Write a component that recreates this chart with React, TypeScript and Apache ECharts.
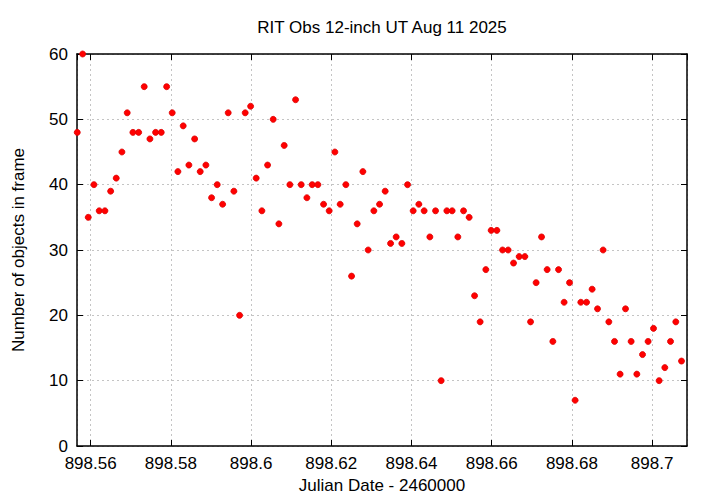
import React, { useEffect, useRef } from "react";
import * as echarts from "echarts";

const chartTitle = "RIT Obs 12-inch UT Aug 11 2025";
const xAxisName = "Julian Date - 2460000";
const yAxisName = "Number of objects in frame";

const julianDates = [
  898.55666, 898.55801, 898.5594, 898.56082, 898.56214, 898.56356, 898.56499, 898.56638,
  898.5678, 898.56912, 898.57054, 898.57197, 898.57336, 898.57478, 898.5762, 898.5776,
  898.57895, 898.58034, 898.58176, 898.58308, 898.5845, 898.58593, 898.58732, 898.58874,
  898.59016, 898.59156, 898.59291, 898.5943, 898.59572, 898.59714, 898.59854, 898.59989,
  898.60128, 898.6027, 898.60412, 898.60552, 898.60694, 898.60826, 898.60968, 898.6111,
  898.6125, 898.61392, 898.61524, 898.61666, 898.61808, 898.61948, 898.6209, 898.62222,
  898.62364, 898.62506, 898.62646, 898.62788, 898.6292, 898.63062, 898.63204, 898.63344,
  898.63479, 898.63618, 898.6376, 898.63902, 898.64042, 898.64184, 898.64316, 898.64458,
  898.646, 898.6474, 898.64882, 898.65014, 898.65156, 898.65298, 898.65438, 898.65573,
  898.65712, 898.65854, 898.65987, 898.66129, 898.66271, 898.6641, 898.66545, 898.66685,
  898.66827, 898.66969, 898.67108, 898.67243, 898.67383, 898.67525, 898.67667, 898.67806,
  898.67941, 898.6808, 898.68223, 898.68365, 898.68504, 898.68639, 898.68778, 898.68921,
  898.69063, 898.69202, 898.69337, 898.69477, 898.69619, 898.69761, 898.699, 898.70035,
  898.70175, 898.70317, 898.70459, 898.70591, 898.70733,
];

const objectCounts = [
  48, 60, 35, 40, 36, 36, 39, 41,
  45, 51, 48, 48, 55, 47, 48, 48,
  55, 51, 42, 49, 43, 47, 42, 43,
  38, 40, 37, 51, 39, 20, 51, 52,
  41, 36, 43, 50, 34, 46, 40, 53,
  40, 38, 40, 40, 37, 36, 45, 37,
  40, 26, 34, 42, 30, 36, 37, 39,
  31, 32, 31, 40, 36, 37, 36, 32,
  36, 10, 36, 36, 32, 36, 35, 23,
  19, 27, 33, 33, 30, 30, 28, 29,
  29, 19, 25, 32, 27, 16, 27, 22,
  25, 7, 22, 22, 24, 21, 30, 19,
  16, 11, 21, 16, 11, 14, 16, 18,
  10, 12, 16, 19, 13,
];

const xMin = 898.5566;
const xMax = 898.7087;
const yMin = 0;
const yMax = 60;
const yStep = 10;

const FONT = '"Liberation Sans", Arial, Helvetica, sans-serif';

export default function App() {
  const ref = useRef<HTMLDivElement>(null);

  useEffect(() => {
    if (!ref.current) return;
    const chart = echarts.init(ref.current, null, { renderer: "svg" });
    const points = julianDates.map((x, i) => [x, objectCounts[i]]);
    const fmtX = (v: number) => String(Number(v.toFixed(2)));

    const gridLine = { show: true, lineStyle: { color: "#c4c4c4", type: [2, 3], width: 1 } };
    const axisLine = { show: true, onZero: false, lineStyle: { color: "#000", width: 1.5 } };
    const tick = { show: true, inside: true, length: 6, lineStyle: { color: "#000", width: 1 } };

    chart.setOption({
      animation: false,
      backgroundColor: "#fff",
      textStyle: { fontFamily: FONT },
      grid: { left: 77, right: 33, top: 54, bottom: 58, containLabel: false },
      graphic: [
        {
          type: "text",
          x: 382,
          y: 27,
          style: {
            text: chartTitle,
            fontSize: 17,
            fontFamily: FONT,
            fill: "#000",
            textAlign: "center",
            textVerticalAlign: "middle",
          },
        },
      ],
      xAxis: [
        {
          type: "value",
          min: xMin,
          max: xMax,
          splitNumber: 8,
          position: "bottom",
          name: xAxisName,
          nameLocation: "middle",
          nameGap: 28,
          nameTextStyle: { fontSize: 17, color: "#000", fontFamily: FONT },
          axisLine,
          axisTick: tick,
          splitLine: gridLine,
          axisLabel: {
            show: true,
            margin: 9,
            fontSize: 17,
            color: "#000",
            fontFamily: FONT,
            showMinLabel: false,
            showMaxLabel: false,
            formatter: fmtX,
          },
        },
        {
          type: "value",
          min: xMin,
          max: xMax,
          splitNumber: 8,
          position: "top",
          axisLine,
          axisTick: tick,
          splitLine: { show: false },
          axisLabel: { show: false },
        },
      ],
      yAxis: [
        {
          type: "value",
          min: yMin,
          max: yMax,
          interval: yStep,
          position: "left",
          name: yAxisName,
          nameLocation: "middle",
          nameGap: 50,
          nameTextStyle: { fontSize: 17, color: "#000", fontFamily: FONT },
          axisLine,
          axisTick: tick,
          splitLine: gridLine,
          axisLabel: { margin: 9, fontSize: 17, color: "#000", fontFamily: FONT },
        },
        {
          type: "value",
          min: yMin,
          max: yMax,
          interval: yStep,
          position: "right",
          axisLine,
          axisTick: tick,
          splitLine: { show: false },
          axisLabel: { show: false },
        },
      ],
      series: [
        {
          type: "scatter",
          xAxisIndex: 0,
          yAxisIndex: 0,
          data: points,
          symbol: "circle",
          symbolSize: 6,
          clip: false,
          itemStyle: { color: "#ff0000", borderColor: "#dd0000", borderWidth: 0.8, opacity: 1 },
        },
      ],
    });

    return () => chart.dispose();
  }, []);

  return (
    <div
      ref={ref}
      style={{ position: "fixed", left: 0, top: 0, width: 720, height: 504, background: "#fff" }}
    />
  );
}
